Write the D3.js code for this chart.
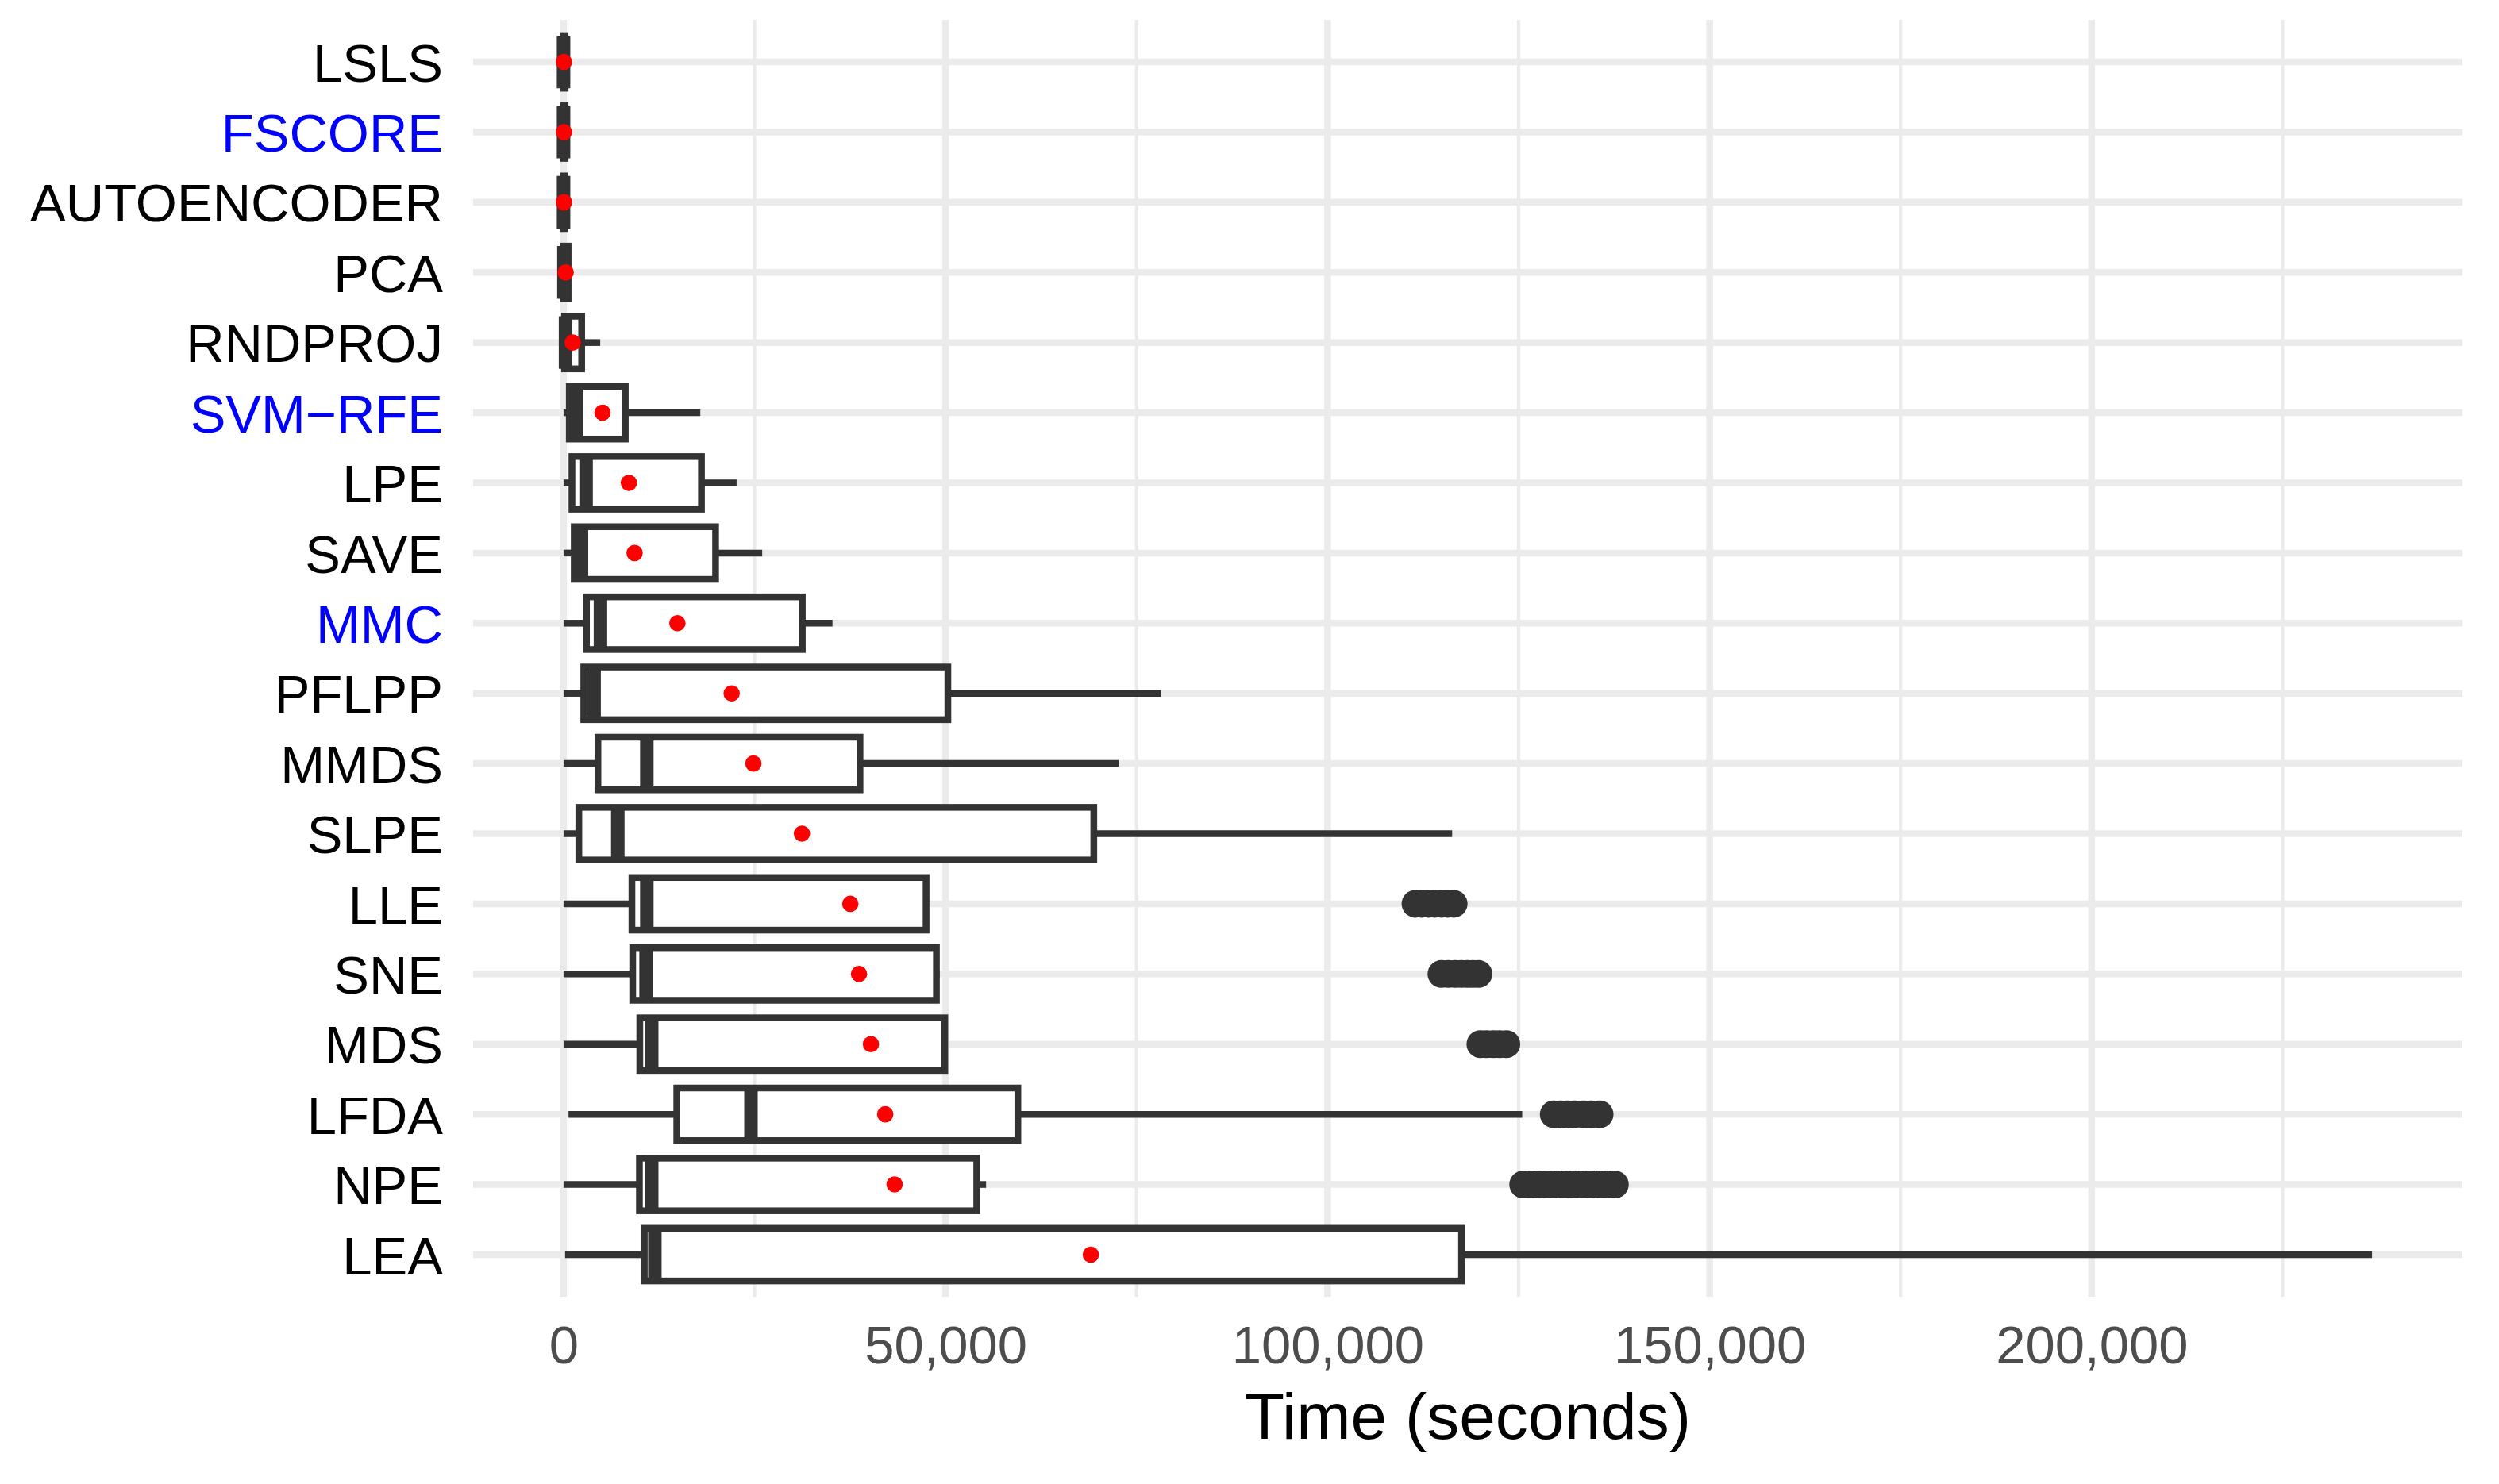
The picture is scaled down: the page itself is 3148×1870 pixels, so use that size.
<!DOCTYPE html>
<html>
<head>
<meta charset="utf-8">
<script src="https://cdn.jsdelivr.net/npm/d3@7"></script>
<style>
  body { margin: 0; background: #fff; }
</style>
</head>
<body>
<svg id="chart"></svg>
<script>
// ─── Data (seconds) ──────────────────────────────────────────────────────────
const methods  = ["LSLS", "FSCORE", "AUTOENCODER", "PCA", "RNDPROJ", "SVM−RFE", "LPE", "SAVE",
                  "MMC", "PFLPP", "MMDS", "SLPE", "LLE", "SNE", "MDS", "LFDA", "NPE", "LEA"];
const minVals  = [0, 0, 0, 0, 0, 0, 0, 0, 0, 0, 0, 0, 0, 0, 0, 650, 0, 200];
const q1Vals   = [0, 0, 0, 0, 130, 750, 1100, 1400, 3000, 2650, 4500, 2000,
                  8950, 9050, 9980, 14820, 9930, 10570];
const medVals  = [0, 0, 0, 50, 260, 1700, 2950, 2350, 4830, 4000, 10900, 7100,
                  10900, 10800, 11540, 24530, 11540, 11950];
const q3Vals   = [200, 200, 100, 600, 2370, 8080, 18050, 19900, 31250, 50300, 38800, 69400,
                  47450, 48800, 49900, 59460, 54080, 117530];
const maxVals  = [400, 400, 300, 800, 4800, 17900, 22650, 26000, 35200, 78200, 72650, 116300,
                  47450, 49200, 49900, 125470, 55300, 236700];
const meanVals = [50, 50, 50, 280, 1200, 5100, 8550, 9300, 14900, 22000, 24850, 31200,
                  37530, 38670, 40230, 42100, 43330, 69010];
const outlierVals = [
  [], [], [], [], [], [], [], [], [], [], [], [],
  [111500, 112300, 113200, 114000, 114900, 115700, 116500],                 // LLE
  [114900, 115800, 116700, 117500, 118300, 119000, 119750],                 // SNE
  [120000, 120800, 121700, 122500, 123400],                                 // MDS
  [129600, 130500, 131400, 132300, 133500, 134500, 135600],                 // LFDA
  [125600, 126600, 127600, 128600, 129600, 130600, 131500, 132500,
   133500, 134500, 135600, 136600, 137600],                                 // NPE
  []
];
const blueLabels = ["FSCORE", "SVM−RFE", "MMC"];
const xTicks     = [0, 50000, 100000, 150000, 200000];
const xMinor     = [25000, 75000, 125000, 175000, 225000];

// ─── Layout ──────────────────────────────────────────────────────────────────
const W = 3148, H = 1870;
const panel = { left: 596, right: 3102, top: 25, bottom: 1634 };
const FONT = "'Liberation Sans', Arial, Helvetica, sans-serif";
const INK = "#333333";
const LW = 8.5;

const svg = d3.select("#chart").attr("width", W).attr("height", H);

const rows = methods.map((m, i) => ({
  m, min: minVals[i], q1: q1Vals[i], med: medVals[i], q3: q3Vals[i],
  max: maxVals[i], mean: meanVals[i], out: outlierVals[i]
}));

// rango con expansión del 5 % como ggplot
const allVals = rows.flatMap(d => [d.min, d.max, ...d.out]);
const lo = d3.min(allVals), hi = d3.max(allVals);
const pad = (hi - lo) * 0.05;

const x = d3.scaleLinear().domain([lo - pad, hi + pad]).range([panel.left, panel.right]);
const y = d3.scalePoint().domain(methods).range([panel.top, panel.bottom]).padding(0.6);
const bh = y.step() * 0.75;

// ─── Grid ────────────────────────────────────────────────────────────────────
const grid = svg.append("g").attr("stroke", "#EBEBEB").attr("fill", "none");

grid.selectAll(".minor").data(xMinor).join("line")
  .attr("x1", d => x(d)).attr("x2", d => x(d))
  .attr("y1", panel.top).attr("y2", panel.bottom)
  .attr("stroke-width", LW / 2);

grid.selectAll(".majx").data(xTicks).join("line")
  .attr("x1", d => x(d)).attr("x2", d => x(d))
  .attr("y1", panel.top).attr("y2", panel.bottom)
  .attr("stroke-width", LW);

grid.selectAll(".majy").data(methods).join("line")
  .attr("x1", panel.left).attr("x2", panel.right)
  .attr("y1", d => y(d)).attr("y2", d => y(d))
  .attr("stroke-width", LW);

// ─── Boxes ───────────────────────────────────────────────────────────────────
const box = svg.append("g").selectAll("g").data(rows).join("g");

box.each(function(d) {
  const g = d3.select(this);
  const cy = y(d.m);

  g.selectAll("circle.out").data(d.out).join("circle")
    .attr("cx", v => x(v)).attr("cy", cy).attr("r", 17.5)
    .attr("fill", INK);

  g.append("line")
    .attr("x1", x(d.q3)).attr("x2", x(d.max))
    .attr("y1", cy).attr("y2", cy)
    .attr("stroke", INK).attr("stroke-width", LW);
  g.append("line")
    .attr("x1", x(d.q1)).attr("x2", x(d.min))
    .attr("y1", cy).attr("y2", cy)
    .attr("stroke", INK).attr("stroke-width", LW);

  g.append("rect")
    .attr("x", x(d.q1)).attr("width", Math.max(x(d.q3) - x(d.q1), 0.5))
    .attr("y", cy - bh / 2).attr("height", bh)
    .attr("fill", "#fff").attr("stroke", INK).attr("stroke-width", LW);

  g.append("line")
    .attr("x1", x(d.med)).attr("x2", x(d.med))
    .attr("y1", cy - bh / 2).attr("y2", cy + bh / 2)
    .attr("stroke", INK).attr("stroke-width", LW * 2);
});

// medias en rojo
svg.append("g").selectAll("circle").data(rows).join("circle")
  .attr("cx", d => x(d.mean)).attr("cy", d => y(d.m)).attr("r", 10.3)
  .attr("fill", "#FF0000");

// ─── Axes ────────────────────────────────────────────────────────────────────
const xAxis = svg.append("g")
  .attr("transform", `translate(0,${panel.bottom})`)
  .call(d3.axisBottom(x).tickValues(xTicks).tickFormat(d3.format(",")).tickSize(0).tickPadding(36));
xAxis.select(".domain").remove();
xAxis.selectAll("text")
  .attr("font-family", FONT).attr("font-size", 67).attr("fill", "#4D4D4D");

const yAxis = svg.append("g")
  .attr("transform", `translate(${panel.left},0)`)
  .call(d3.axisLeft(y).tickSize(0).tickPadding(38));
yAxis.select(".domain").remove();
yAxis.selectAll("text")
  .attr("font-family", FONT).attr("font-size", 67).attr("dy", "0.36em")
  .attr("fill", d => blueLabels.includes(d) ? "#0000FF" : "#000000");

svg.append("text")
  .attr("x", (panel.left + panel.right) / 2).attr("y", 1813)
  .attr("text-anchor", "middle")
  .attr("font-family", FONT).attr("font-size", 82).attr("fill", "#000")
  .text("Time (seconds)");
</script>
</body>
</html>
